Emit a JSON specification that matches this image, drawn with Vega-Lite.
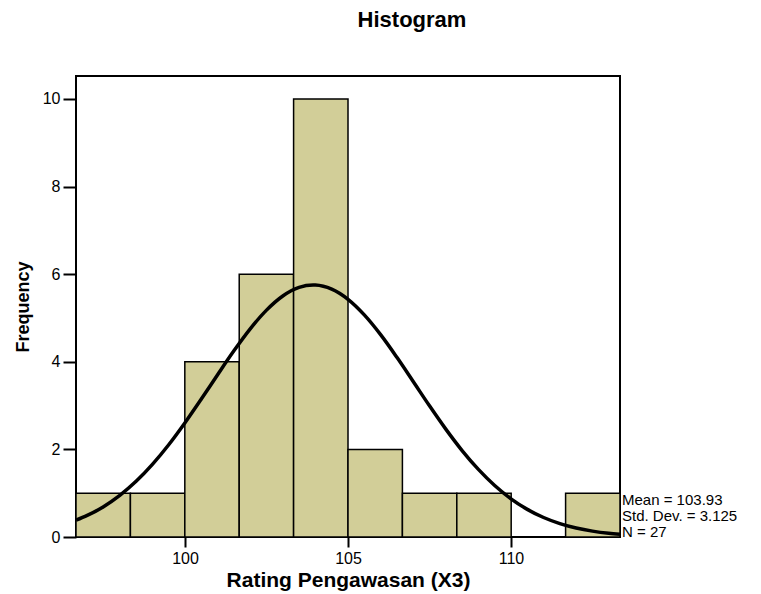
{
  "$schema": "https://vega.github.io/schema/vega-lite/v6.json",
  "autosize": "none",
  "padding": {"left": 76, "top": 76, "right": 141, "bottom": 57},
  "width": 544,
  "height": 461,
  "background": "white",
  "config": {
    "font": "Liberation Sans",
    "view": {"stroke": "black", "strokeWidth": 2},
    "axis": {"grid": false, "domain": false, "tickColor": "black", "tickWidth": 2, "labelColor": "black", "labelFont": "Liberation Sans", "titleColor": "black", "titleFont": "Liberation Sans", "titleFontWeight": "bold"}
  },
  "title": {"text": "Histogram", "font": "Liberation Sans", "fontSize": 22, "fontWeight": "bold", "color": "black", "anchor": "middle", "dx": 64, "offset": 44},
  "layer": [
    {
      "data": {"values": [
        {"bin_start": 96.656, "bin_end": 98.325, "count": 1},
        {"bin_start": 98.325, "bin_end": 99.994, "count": 1},
        {"bin_start": 99.994, "bin_end": 101.663, "count": 4},
        {"bin_start": 101.663, "bin_end": 103.331, "count": 6},
        {"bin_start": 103.331, "bin_end": 105.0, "count": 10},
        {"bin_start": 105.0, "bin_end": 106.669, "count": 2},
        {"bin_start": 106.669, "bin_end": 108.338, "count": 1},
        {"bin_start": 108.338, "bin_end": 110.006, "count": 1},
        {"bin_start": 111.675, "bin_end": 113.344, "count": 1}
      ]},
      "mark": {"type": "rect", "fill": "#d2ce98", "stroke": "black", "strokeWidth": 1.5},
      "encoding": {
        "x": {"field": "bin_start", "type": "quantitative", "scale": {"domain": [96.656, 113.344], "nice": false, "zero": false}, "axis": {"values": [100, 105, 110], "title": "Rating Pengawasan (X3)", "titleFontSize": 21, "labelFontSize": 16, "tickSize": 10, "labelPadding": 3, "titlePadding": 3}},
        "x2": {"field": "bin_end"},
        "y": {"field": "count", "type": "quantitative", "scale": {"domain": [0, 10.525], "nice": false}, "axis": {"values": [0, 2, 4, 6, 8, 10], "title": "Frequency", "titleFontSize": 18, "labelFontSize": 16, "tickSize": 13, "labelPadding": 3, "titlePadding": 10}},
        "y2": {"datum": 0}
      }
    },
    {
      "data": {"values": [
        {"x": 96.656, "y": 0.383}, {"x": 97, "y": 0.492}, {"x": 97.5, "y": 0.693}, {"x": 98, "y": 0.951},
        {"x": 98.5, "y": 1.271}, {"x": 99, "y": 1.658}, {"x": 99.5, "y": 2.106}, {"x": 100, "y": 2.609},
        {"x": 100.5, "y": 3.149}, {"x": 101, "y": 3.706}, {"x": 101.5, "y": 4.251}, {"x": 102, "y": 4.753},
        {"x": 102.5, "y": 5.18}, {"x": 103, "y": 5.503}, {"x": 103.5, "y": 5.698}, {"x": 103.93, "y": 5.752},
        {"x": 104, "y": 5.751}, {"x": 104.5, "y": 5.657}, {"x": 105, "y": 5.425}, {"x": 105.5, "y": 5.07},
        {"x": 106, "y": 4.619}, {"x": 106.5, "y": 4.101}, {"x": 107, "y": 3.55}, {"x": 107.5, "y": 2.995},
        {"x": 108, "y": 2.463}, {"x": 108.5, "y": 1.974}, {"x": 109, "y": 1.543}, {"x": 109.5, "y": 1.175},
        {"x": 110, "y": 0.872}, {"x": 110.5, "y": 0.631}, {"x": 111, "y": 0.445}, {"x": 111.5, "y": 0.306},
        {"x": 112, "y": 0.205}, {"x": 112.5, "y": 0.134}, {"x": 113, "y": 0.085}, {"x": 113.344, "y": 0.062}
      ]},
      "mark": {"type": "line", "color": "black", "strokeWidth": 3.5, "interpolate": "monotone"},
      "encoding": {
        "x": {"field": "x", "type": "quantitative"},
        "y": {"field": "y", "type": "quantitative"}
      }
    },
    {
      "data": {"values": [{"label": ["Mean = 103.93", "Std. Dev. = 3.125", "N = 27"]}]},
      "mark": {"type": "text", "align": "left", "baseline": "alphabetic", "fontSize": 15, "lineHeight": 16, "dx": 2, "dy": -32, "color": "black", "font": "Liberation Sans"},
      "encoding": {
        "x": {"datum": 113.344, "type": "quantitative"},
        "y": {"datum": 0, "type": "quantitative"},
        "text": {"field": "label"}
      }
    }
  ]
}
